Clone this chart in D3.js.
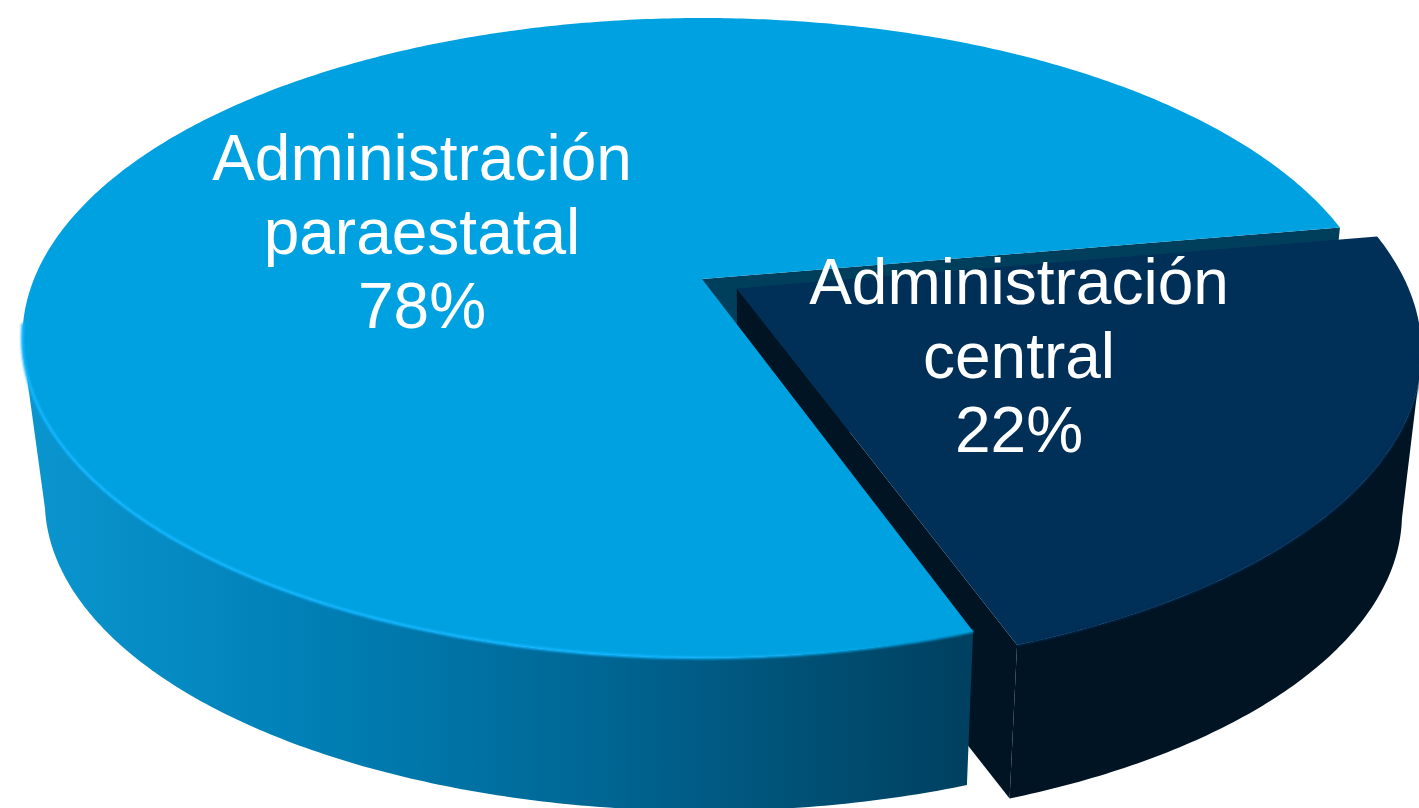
<!DOCTYPE html>
<html><head><meta charset="utf-8">
<script src="https://cdnjs.cloudflare.com/ajax/libs/d3/7.8.5/d3.min.js"></script>
<style>html,body{margin:0;padding:0;background:#fff;overflow:hidden}svg{display:block}</style>
</head><body><svg id="c" width="1419" height="808"></svg>
<script>
const categories = ["Administración paraestatal", "Administración central"];
const values = [77.7, 22.3];
const labelLines = [["Administración", "paraestatal", "78%"], ["Administración", "central", "22%"]];
const labelCenters = [[422, 180], [1019, 304]];

const W = 1419, H = 808, rad = d3.scaleLinear().domain([0, 360]).range([0, 2 * Math.PI]);
const svg = d3.select("#c");
const defs = svg.append("defs");

// camera model of the tilted disc
const ox = 702, oy = 279, ax = 668, by = 309, k = -0.184;
const explode = 0.06, depthS = 0.97, vx = 768, vy = 5764;
function topPoint(a, r, off) {
  const x = r * Math.sin(a) + off[0], y = -r * Math.cos(a) + off[1];
  const d = 1 + k * y;
  return [ox + ax * x / d, oy + by * y / d];
}
const lower = p => [vx + (p[0] - vx) * depthS, vy + (p[1] - vy) * depthS];
const line = d3.line();
const samples = (a0, a1) => { const n = Math.ceil(Math.abs(a1 - a0) / 0.01); return d3.range(n + 1).map(i => a0 + (a1 - a0) * i / n); };
const rim = (a0, a1, off) => samples(a0, a1).map(a => topPoint(a, 1, off));

const arcs = d3.pie().sort(null).value(d => d).startAngle(rad(160.4)).endAngle(rad(520.4))(values);
const big = arcs[0], dark = arcs[1];
const mid = (dark.startAngle + dark.endAngle) / 2;
const offDark = [explode * Math.sin(mid), -explode * Math.cos(mid)], off0 = [0, 0];

const wallGrad = defs.append("linearGradient").attr("id", "wall").attr("gradientUnits", "userSpaceOnUse")
  .attr("x1", 20).attr("x2", 970).attr("y1", 0).attr("y2", 0);
[[0, "#0b96d0"], [0.3, "#0080b6"], [0.6, "#006795"], [0.85, "#004e72"], [1, "#004060"]]
  .forEach(s => wallGrad.append("stop").attr("offset", s[0]).attr("stop-color", s[1]));
const rimGrad = defs.append("linearGradient").attr("id", "rimG").attr("gradientUnits", "userSpaceOnUse")
  .attr("x1", 20).attr("x2", 900).attr("y1", 0).attr("y2", 0);
[[0, "#12b6ff"], [0.7, "#12b6ff"], [1, "#00a1e0"]]
  .forEach(s => rimGrad.append("stop").attr("offset", s[0]).attr("stop-color", s[1]));
defs.append("filter").attr("id", "soft").attr("x", "-5%").attr("y", "-5%").attr("width", "110%").attr("height", "110%")
  .append("feGaussianBlur").attr("stdDeviation", 0.9);

const centerOf = off => topPoint(0, 0, off);
const poly = (pts, fill, g) => (g || svg).append("path").attr("d", line(pts) + "Z").attr("fill", fill);

// teal cut face of the large slice (behind the dark slice)
const pEnd = topPoint(big.endAngle, 1, off0);
poly([centerOf(off0), pEnd, lower(pEnd), lower(centerOf(off0))], "#003f5c");

// dark slice: outer wall, top, cut face
const darkRimVis = rim(rad(360 + 102), dark.endAngle, offDark);
poly(darkRimVis.concat(darkRimVis.map(lower).reverse()), "#001424");
const dc = centerOf(offDark), de = topPoint(dark.endAngle, 1, offDark);
poly([dc, de, lower(de), lower(dc)], "#001424");
poly([dc].concat(rim(dark.startAngle, dark.endAngle, offDark)), "#002f57");
svg.append("path").attr("d", line(darkRimVis)).attr("fill", "none").attr("stroke", "#002f57").attr("stroke-width", 2).attr("filter", "url(#soft)");

// large slice: outer wall, top, rim highlight
const bigRimVis = rim(big.startAngle, rad(258), off0);
poly(bigRimVis.concat(bigRimVis.map(lower).reverse()), "url(#wall)");
poly([centerOf(off0)].concat(rim(big.startAngle, big.endAngle, off0)), "#00a1e0");
svg.append("path").attr("d", line(rim(big.startAngle, rad(262), off0))).attr("fill", "none")
  .attr("stroke", "url(#rimG)").attr("stroke-width", 3).attr("filter", "url(#soft)");

// labels
labelLines.forEach((lines, i) => {
  svg.append("text").attr("font-family", "'Liberation Sans', Arial, sans-serif").attr("font-size", 64)
    .attr("fill", "#fff").attr("text-anchor", "middle")
    .selectAll("tspan").data(lines).join("tspan")
    .attr("x", labelCenters[i][0]).attr("y", (d, j) => labelCenters[i][1] + j * 74).text(d => d);
});
</script></body></html>
